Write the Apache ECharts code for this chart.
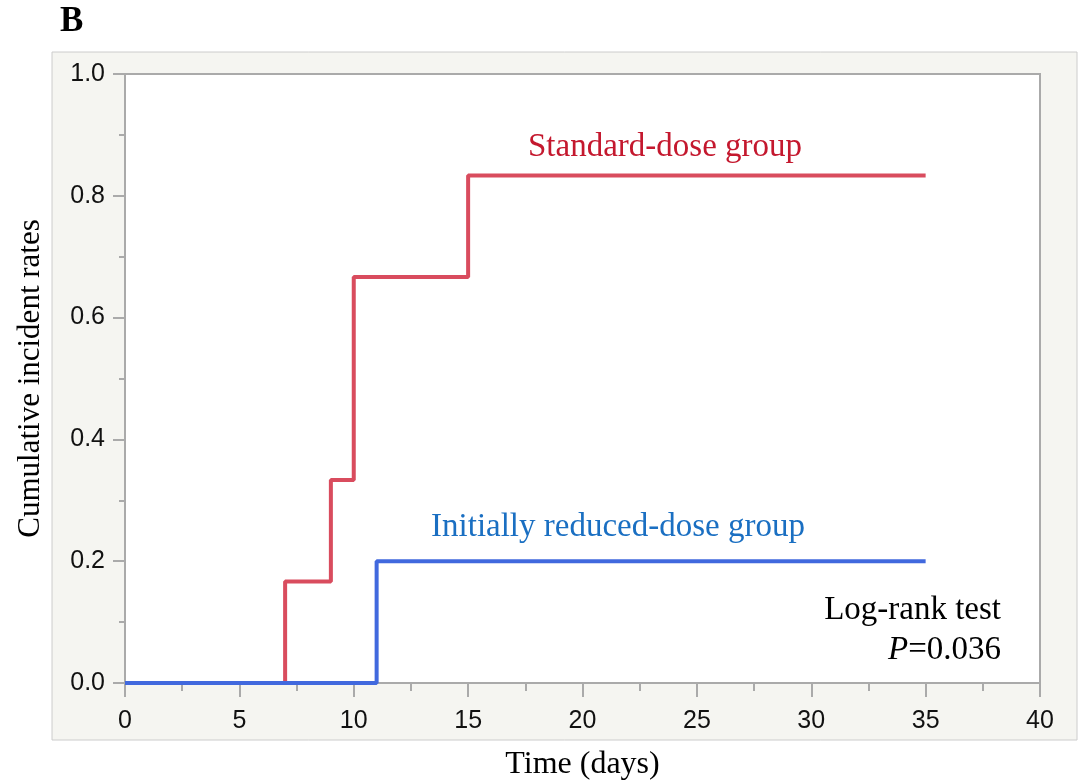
<!DOCTYPE html>
<html lang="en">
<head>
    <meta charset="UTF-8">
    <title>Cumulative incident rates</title>
    <script src="https://cdn.jsdelivr.net/npm/echarts@6/dist/echarts.min.js"></script>
</head>
<body style="margin:0;background:#fff;">
<div id="main" style="width:1088px;height:784px;"></div>
<script type="text/javascript">
    // step points (time in days, cumulative rate)
    var standardTimes = [0, 7, 9, 10, 15, 35];
    var standardRates = [0, 0.1667, 0.3333, 0.6667, 0.8333, 0.8333];
    var reducedTimes = [0, 11, 35];
    var reducedRates = [0, 0.2, 0.2];

    function pairs(xs, ys) {
        var out = [];
        for (var i = 0; i < xs.length; i++) out.push([xs[i], ys[i]]);
        return out;
    }

    var serif = '"Liberation Serif", "DejaVu Serif", serif';
    var sans = '"Liberation Sans", Arial, sans-serif';
    var gridColor = '#aaaaaa';

    var myChart = echarts.init(document.getElementById('main'));
    myChart.setOption({
        animation: false,
        backgroundColor: '#ffffff',
        grid: {
            left: 125, top: 74, width: 915, height: 609,
            outerBoundsMode: 'none',
            show: true, backgroundColor: '#ffffff',
            borderColor: gridColor, borderWidth: 2
        },
        graphic: [
            {   // outer light panel
                type: 'rect', z: -10,
                shape: {x: 52, y: 52, width: 1025, height: 688},
                style: {fill: '#f5f5f1', stroke: '#cccccc', lineWidth: 1}
            },
            {
                type: 'text', left: 60, top: 4,
                style: {text: 'B', font: 'bold 35px ' + serif, fill: '#000'}
            },
            {
                type: 'text', x: 665, y: 147,
                style: {text: 'Standard-dose group', font: '33px ' + serif, fill: '#c4182e',
                        textAlign: 'center', textVerticalAlign: 'middle'}
            },
            {
                type: 'text', x: 618, y: 527,
                style: {text: 'Initially reduced-dose group', font: '33px ' + serif, fill: '#1a6fc2',
                        textAlign: 'center', textVerticalAlign: 'middle'}
            },
            {
                type: 'text', x: 1001, y: 610,
                style: {text: 'Log-rank test', font: '33px ' + serif, fill: '#000',
                        textAlign: 'right', textVerticalAlign: 'middle'}
            },
            {
                type: 'text', x: 1001, y: 650,
                style: {
                    text: '{i|P}=0.036', font: '33px ' + serif, fill: '#000',
                    textAlign: 'right', textVerticalAlign: 'middle',
                    rich: {i: {fontStyle: 'italic', fontFamily: serif, fontSize: 33}}
                }
            }
        ],
        xAxis: {
            type: 'value', min: 0, max: 40, interval: 5,
            name: 'Time (days)', nameLocation: 'middle', nameGap: 66,
            nameTextStyle: {fontFamily: serif, fontSize: 32, color: '#000'},
            axisLine: {lineStyle: {color: gridColor, width: 2}},
            axisTick: {show: true, length: 14, lineStyle: {color: gridColor, width: 2}},
            minorTick: {show: true, splitNumber: 2, length: 8, lineStyle: {color: gridColor, width: 2}},
            axisLabel: {fontFamily: sans, fontSize: 25, color: '#111', margin: 26},
            splitLine: {show: false}
        },
        yAxis: {
            type: 'value', min: 0, max: 1, interval: 0.2,
            name: 'Cumulative incident rates', nameLocation: 'middle', nameGap: 79,
            nameTextStyle: {fontFamily: serif, fontSize: 31, color: '#000'},
            axisLine: {show: true, lineStyle: {color: gridColor, width: 2}},
            axisTick: {show: true, length: 12, lineStyle: {color: gridColor, width: 2}},
            minorTick: {show: true, splitNumber: 2, length: 6, lineStyle: {color: gridColor, width: 2}},
            axisLabel: {
                fontFamily: sans, fontSize: 25, color: '#111', margin: 20,
                formatter: function (v) { return v.toFixed(1); }
            },
            splitLine: {show: false}
        },
        series: [
            {
                name: 'Standard-dose group', type: 'line', step: 'end',
                data: pairs(standardTimes, standardRates),
                showSymbol: false, lineStyle: {color: '#d94c5e', width: 4},
                itemStyle: {color: '#d94c5e'}
            },
            {
                name: 'Initially reduced-dose group', type: 'line', step: 'end',
                data: pairs(reducedTimes, reducedRates),
                showSymbol: false, lineStyle: {color: '#4169de', width: 4},
                itemStyle: {color: '#4169de'}
            }
        ]
    });
</script>
</body>
</html>
